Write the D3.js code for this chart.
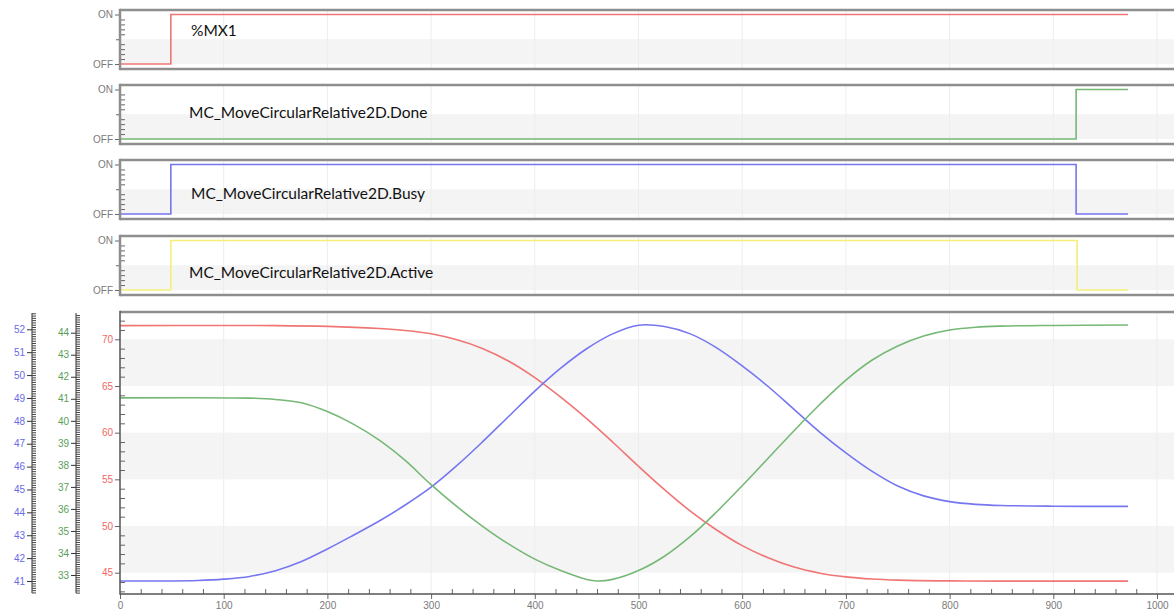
<!DOCTYPE html>
<html><head><meta charset="utf-8">
<script src="https://cdn.jsdelivr.net/npm/d3@7"></script>
<style>
html,body{margin:0;padding:0;background:#fff;}
svg{display:block;}
</style></head><body>
<svg id="chart" width="1174" height="614"></svg>
<script>
// ---- time base (ms) ----
const timeMajor = [0,100,200,300,400,500,600,700,800,900,1000];

// ---- digital traces: switching instants and states (0 = OFF, 1 = ON) ----
const digitalNames = ["%MX1","MC_MoveCircularRelative2D.Done","MC_MoveCircularRelative2D.Busy","MC_MoveCircularRelative2D.Active"];
const mx1Time = [0, 49, 972];
const mx1State = [0, 1, 1];
const doneTime = [0, 922, 972];
const doneState = [0, 1, 1];
const busyTime = [0, 49, 922, 972];
const busyState = [0, 1, 0, 0];
const activeTime = [0, 49, 923, 972];
const activeState = [0, 1, 0, 0];
const stateLabels = ["OFF","ON"];

// ---- analog traces ----
const redTime  = [0, 100, 150, 200, 250, 275, 300, 325, 350, 375, 400, 425, 450, 475, 500, 525, 550, 575, 600, 625, 650, 675, 700, 725, 750, 800, 850, 972];
const redValue = [71.46, 71.48, 71.47, 71.38, 71.15, 70.95, 70.6, 69.95, 69.0, 67.65, 65.9, 63.8, 61.5, 59.0, 56.4, 53.9, 51.6, 49.6, 47.9, 46.6, 45.6, 44.95, 44.55, 44.32, 44.2, 44.12, 44.1, 44.1];

const blueTime  = [0, 50, 75, 100, 125, 150, 175, 200, 225, 250, 275, 300, 325, 350, 375, 400, 425, 450, 475, 500, 525, 550, 575, 600, 625, 650, 675, 700, 725, 750, 775, 800, 825, 850, 900, 972];
const blueValue = [41.0, 41.0, 41.02, 41.08, 41.2, 41.45, 41.85, 42.4, 43.0, 43.62, 44.32, 45.1, 46.05, 47.1, 48.2, 49.3, 50.3, 51.15, 51.8, 52.18, 52.12, 51.8, 51.2, 50.4, 49.5, 48.5, 47.5, 46.6, 45.8, 45.15, 44.72, 44.47, 44.35, 44.3, 44.27, 44.26];

const greenTime  = [0, 125, 150, 175, 200, 225, 250, 275, 300, 325, 350, 375, 400, 425, 450, 460, 475, 500, 525, 550, 575, 600, 625, 650, 675, 700, 725, 750, 775, 800, 825, 850, 900, 972];
const greenValue = [41.04, 41.03, 40.97, 40.82, 40.42, 39.85, 39.12, 38.2, 37.1, 36.1, 35.2, 34.4, 33.72, 33.2, 32.8, 32.73, 32.8, 33.2, 33.85, 34.75, 35.85, 37.05, 38.3, 39.55, 40.75, 41.85, 42.75, 43.4, 43.85, 44.12, 44.25, 44.3, 44.33, 44.35];

const redTicks   = [45, 50, 55, 60, 65, 70];
const blueTicks  = [41, 42, 43, 44, 45, 46, 47, 48, 49, 50, 51, 52];
const greenTicks = [33, 34, 35, 36, 37, 38, 39, 40, 41, 42, 43, 44];

// ---- styling ----
const C = {
  frame: "#8e8e8e", band: "#f4f4f4", grid: "#ededed", tickText: "#7a7a7a",
  red: "#f07575", blue: "#7676f0", green: "#76b876", yellow: "#f3ef78",
  redText: "#f06868", blueText: "#6a6ae6", greenText: "#58a058", scale: "#333"
};
const W = 1174;
const left = 120;

const svg = d3.select("#chart");
const x = d3.scaleLinear().domain([0, 1000]).range([left, 1157]);
const minorTime = d3.range(0, 1001, 20).filter(v => v % 100 !== 0);

function frame(g, top, bottom) {
  g.append("line").attr("x1", left).attr("x2", W).attr("y1", top).attr("y2", top)
    .attr("stroke", C.frame).attr("stroke-width", 2.5);
  g.append("line").attr("x1", left).attr("x2", W).attr("y1", bottom).attr("y2", bottom)
    .attr("stroke", C.frame).attr("stroke-width", 2.5);
  g.append("line").attr("x1", left).attr("x2", left).attr("y1", top - 1.2).attr("y2", bottom + 1.2)
    .attr("stroke", C.frame).attr("stroke-width", 2.5);
}

function vgrid(g, top, bottom) {
  g.selectAll(null).data(timeMajor.slice(1)).join("line")
    .attr("x1", d => x(d)).attr("x2", d => x(d))
    .attr("y1", top).attr("y2", bottom)
    .attr("stroke", C.grid).attr("stroke-width", 1);
}

function styleAxis(sel, color, textColor) {
  sel.select(".domain").remove();
  sel.selectAll(".tick line").attr("stroke", color).attr("stroke-width", 1);
  sel.selectAll(".tick text").attr("fill", textColor)
    .style("font-family", "'Liberation Sans', Arial, sans-serif").style("font-size", "10px");
}

// ---- digital panels ----
const digital = [
  {name: digitalNames[0], t: mx1Time, s: mx1State, color: C.red, top: 10, label: {x: 191, y: 36}},
  {name: digitalNames[1], t: doneTime, s: doneState, color: C.green, top: 85, label: {x: 189, y: 118}},
  {name: digitalNames[2], t: busyTime, s: busyState, color: C.blue, top: 160, label: {x: 191, y: 199}},
  {name: digitalNames[3], t: activeTime, s: activeState, color: C.yellow, top: 236, label: {x: 189, y: 278}}
];

digital.forEach(p => {
  const g = svg.append("g");
  const top = p.top, bottom = p.top + 59;
  const y = d3.scaleLinear().domain([0, 1]).range([top + 54, top + 4.5]);
  // background band between OFF and mid level
  g.append("rect").attr("x", left).attr("width", W - left)
    .attr("y", y(0.5)).attr("height", y(0) - y(0.5)).attr("fill", C.band);
  vgrid(g, top, bottom);

  // state axis: ON / OFF outward, fine divisions inward
  const ax = g.append("g").attr("transform", `translate(${left},0)`)
    .call(d3.axisLeft(y).tickValues([0, 1]).tickSize(5).tickPadding(2)
      .tickFormat(d => stateLabels[d]));
  styleAxis(ax, "#666", C.tickText);
  const mid = g.append("g").attr("transform", `translate(${left},0)`)
    .call(d3.axisLeft(y).tickValues([0.5]).tickSize(4).tickFormat(""));
  styleAxis(mid, "#666", C.tickText);
  const fine = g.append("g").attr("transform", `translate(${left},0)`)
    .call(d3.axisRight(y).tickValues(d3.range(1, 10).filter(i => i !== 5).map(i => i / 10)).tickSize(5).tickFormat(""));
  styleAxis(fine, "#666", C.tickText);

  const pts = p.t.map((t, i) => [t, p.s[i]]);
  g.append("path").datum(pts)
    .attr("d", d3.line().x(d => x(d[0])).y(d => y(d[1])).curve(d3.curveStepAfter))
    .attr("fill", "none").attr("stroke", p.color).attr("stroke-width", 1.6);

  frame(g, top, bottom);

  g.append("text").attr("x", p.label.x).attr("y", p.label.y)
    .text(p.name)
    .style("font-family", "Lato, 'Open Sans', sans-serif").style("font-size", "15.5px")
    .attr("fill", "#111");
});

// ---- analog panel ----
const aTop = 312, aBottom = 594;
const yRed = d3.scaleLinear().domain([45, 70]).range([572.7, 339.3]);
const yBlue = d3.scaleLinear().domain([41, 52]).range([581, 329.3]);
const yGreen = d3.scaleLinear().domain([33, 44]).range([575, 332.7]);

const ga = svg.append("g");
// alternating bands every 5 units of the red scale
[[65, 70], [55, 60], [45, 50]].forEach(b => {
  ga.append("rect").attr("x", left).attr("width", W - left)
    .attr("y", yRed(b[1])).attr("height", yRed(b[0]) - yRed(b[1])).attr("fill", C.band);
});
vgrid(ga, aTop, aBottom);

// red scale on the frame
const rAx = ga.append("g").attr("transform", `translate(${left},0)`)
  .call(d3.axisLeft(yRed).tickValues(redTicks).tickSize(5).tickPadding(2));
styleAxis(rAx, "#666", C.redText);
const rMinor = d3.range(43, 73).filter(v => v % 5 !== 0);
const rAxM = ga.append("g").attr("transform", `translate(${left},0)`)
  .call(d3.axisRight(yRed).tickValues(rMinor).tickSize(5).tickFormat(""));
styleAxis(rAxM, "#666", C.redText);

// extra scales for blue and green traces
function sideScale(xPos, scale, ticks, textColor) {
  const g = svg.append("g");
  g.append("line").attr("x1", xPos).attr("x2", xPos).attr("y1", 313).attr("y2", 593)
    .attr("stroke", C.scale).attr("stroke-width", 1);
  const a = scale.invert(593), b = scale.invert(313);
  const lo = Math.min(a, b), hi = Math.max(a, b);
  const fineVals = d3.range(Math.ceil(lo * 10), Math.floor(hi * 10) + 1).map(v => v / 10);
  const maj = g.append("g").attr("transform", `translate(${xPos},0)`)
    .call(d3.axisLeft(scale).tickValues(ticks).tickSize(5).tickPadding(2));
  styleAxis(maj, C.scale, textColor);
  const fin = g.append("g").attr("transform", `translate(${xPos},0)`)
    .call(d3.axisRight(scale).tickValues(fineVals).tickSize(4).tickFormat(""));
  styleAxis(fin, C.scale, textColor);
  fin.selectAll(".tick line").attr("stroke", "#444");
}
sideScale(32, yBlue, blueTicks, C.blueText);
sideScale(76, yGreen, greenTicks, C.greenText);

// traces
const smooth = d3.curveCatmullRom.alpha(0.5);
function trace(times, values, scale, color) {
  ga.append("path").datum(times.map((t, i) => [t, values[i]]))
    .attr("d", d3.line().x(d => x(d[0])).y(d => scale(d[1])).curve(smooth))
    .attr("fill", "none").attr("stroke", color).attr("stroke-width", 1.6);
}
trace(redTime, redValue, yRed, C.red);
trace(blueTime, blueValue, yBlue, C.blue);
trace(greenTime, greenValue, yGreen, C.green);

// time axis
const xAx = ga.append("g").attr("transform", `translate(0,${aBottom})`)
  .call(d3.axisBottom(x).tickValues(timeMajor).tickSize(5).tickPadding(3).tickFormat(d3.format("d")));
styleAxis(xAx, "#666", C.tickText);
const xAxM = ga.append("g").attr("transform", `translate(0,${aBottom})`)
  .call(d3.axisTop(x).tickValues(minorTime).tickSize(5).tickFormat(""));
styleAxis(xAxM, "#666", C.tickText);

// frame of the analog panel
ga.append("line").attr("x1", left).attr("x2", W).attr("y1", aTop).attr("y2", aTop)
  .attr("stroke", C.frame).attr("stroke-width", 2.5);
ga.append("line").attr("x1", left).attr("x2", W).attr("y1", aBottom).attr("y2", aBottom)
  .attr("stroke", "#555").attr("stroke-width", 1.5);
ga.append("line").attr("x1", left).attr("x2", left).attr("y1", aTop - 1.2).attr("y2", aBottom + 0.7)
  .attr("stroke", "#555").attr("stroke-width", 1.5);
</script>
</body></html>
